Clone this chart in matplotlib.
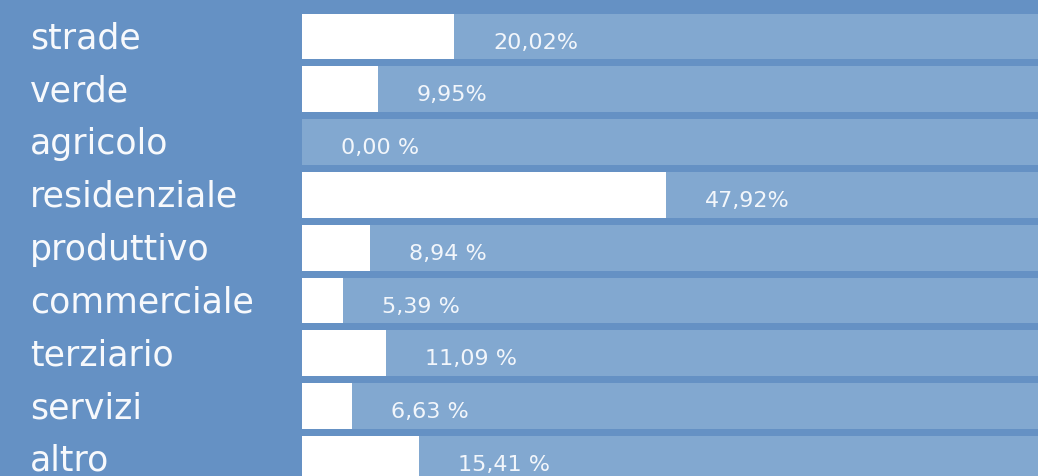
import numpy as np
import matplotlib
matplotlib.use("Agg")
import matplotlib.pyplot as plt
import matplotlib.transforms as mtransforms

# data
categories = ["strade", "verde", "agricolo", "residenziale", "produttivo",
              "commerciale", "terziario", "servizi", "altro"]
values = [20.02, 9.95, 0.00, 47.92, 8.94, 5.39, 11.09, 6.63, 15.41]
pct_text = ["20,02%", "9,95%", "0,00 %", "47,92%", "8,94 %",
            "5,39 %", "11,09 %", "6,63 %", "15,41 %"]

# colours
bg_col = "#6591c4"
band_col = "#82a8d0"
bar_col = "#ffffff"

fig = plt.figure(figsize=(10.38, 4.77), dpi=100)
fig.patch.set_facecolor(bg_col)
ax = fig.add_axes([302 / 1038, 0, 1 - 302 / 1038, 1])
ax.set_facecolor(bg_col)

y = np.arange(len(categories))
band_h = 0.87

# light bands behind each row
for i in y:
    ax.axhspan(i - band_h / 2, i + band_h / 2, color=band_col, lw=0, zorder=1)

ax.barh(y, values, height=band_h, color=bar_col, lw=0, zorder=2)

ax.set_xlim(0, 96.8)
ax.set_ylim(8.324, -0.71)
ax.axis("off")

# percent labels after each bar
for i, v in enumerate(values):
    ax.annotate(pct_text[i], xy=(v, i + 0.21), xytext=(28, 0),
                textcoords="offset points", ha="left", va="baseline",
                fontsize=16, color="#f2f6fb", zorder=3)

# category names on the left
trans = mtransforms.blended_transform_factory(fig.transFigure, ax.transData)
for i, name in enumerate(categories):
    ax.text(30 / 1038, i + 0.21, name, transform=trans, ha="left",
            va="baseline", fontsize=25, color="#f7f9fc", clip_on=False)

fig.savefig("out.png", dpi=100, facecolor=fig.get_facecolor())
